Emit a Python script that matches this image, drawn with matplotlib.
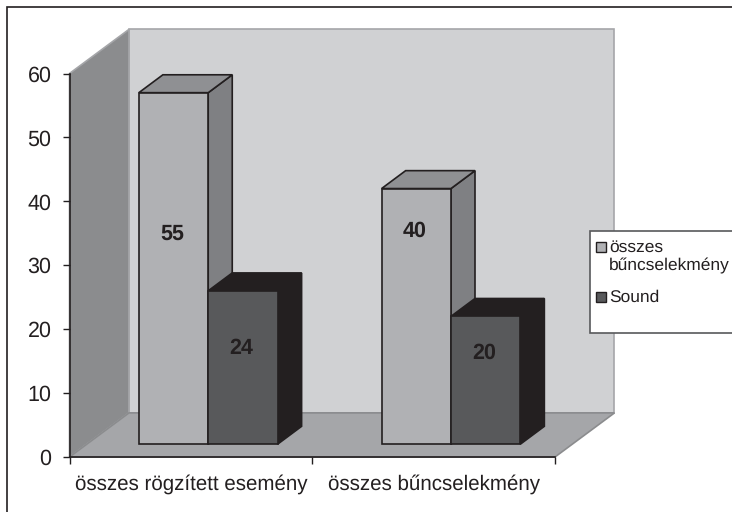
import matplotlib
matplotlib.use('Agg')
import matplotlib.pyplot as plt
from matplotlib.patches import Polygon, Rectangle

plt.rcParams['font.family'] = ['Liberation Sans', 'DejaVu Sans']
plt.rcParams['text.hinting'] = 'no_hinting'

categories = ['összes rögzített esemény', 'összes bűncselekmény']
series_names = ['összes\nbűncselekmény', 'Sound']
first_values = [55, 40]
second_values = [24, 20]
# where the numbers sit on the bars (value axis)
first_label_y = [34.9, 35.4]
second_label_y = [17.0, 16.3]
y_ticks = [0, 10, 20, 30, 40, 50, 60]

INK = '#231f20'
W, H = 732, 512

# 3d look, in data units
wall_dx, wall_dy = 0.245, 6.9
bar_dx, bar_dy = 0.099, 2.8
bar_w = 2 / 7
base = 2

fig = plt.figure(figsize=(W / 100, H / 100), dpi=100)
ax = fig.add_axes([69.5 / W, 1 - 457 / H, 485.5 / W, 383.5 / H])
ax.set_xlim(0, 2)
ax.set_ylim(0, 60)
ax.patch.set_visible(False)


def poly(points, color, edge=None, lw=1.2, z=1):
    ax.add_patch(Polygon(points, closed=True, facecolor=color, edgecolor=edge or color,
                         linewidth=lw, clip_on=False, zorder=z))


# walls and floor
poly([(wall_dx, wall_dy), (2 + wall_dx, wall_dy), (2 + wall_dx, 60 + wall_dy), (wall_dx, 60 + wall_dy)],
     '#d0d1d3', '#a5a6a9')
poly([(0, 0), (wall_dx, wall_dy), (wall_dx, 60 + wall_dy), (0, 60)], '#8b8c8e', '#a5a6a9')
poly([(0, 0), (2, 0), (2 + wall_dx, wall_dy), (wall_dx, wall_dy)], '#a5a6a9', '#8b8c8e')


def bar3d(x, value, front, top, side, z):
    y = base + value
    poly([(x + bar_w, base), (x + bar_w + bar_dx, base + bar_dy),
          (x + bar_w + bar_dx, y + bar_dy), (x + bar_w, y)], side, INK, z=z)
    poly([(x, y), (x + bar_w, y), (x + bar_w + bar_dx, y + bar_dy), (x + bar_dx, y + bar_dy)],
         top, INK, z=z)
    ax.bar(x, value, bar_w, bottom=base, align='edge', color=front, edgecolor=INK,
           linewidth=1.2, zorder=z + 0.1)


for i in range(len(categories)):
    x1 = i + bar_w
    x2 = x1 + bar_w
    bar3d(x1, first_values[i], '#b0b1b4', '#8f9093', '#7f8083', 2)
    bar3d(x2, second_values[i], '#58595b', INK, INK, 3)
    ax.text(x1 + bar_w / 2 - 0.006, first_label_y[i], str(first_values[i]), ha='center', va='center',
            fontsize=15.5, fontweight='bold', color=INK, zorder=5)
    ax.text(x2 + bar_w / 2 - 0.006, second_label_y[i], str(second_values[i]), ha='center', va='center',
            fontsize=15.5, fontweight='bold', color=INK, zorder=5)

for side in ['top', 'right']:
    ax.spines[side].set_visible(False)
for side in ['left', 'bottom']:
    ax.spines[side].set_color(INK)
    ax.spines[side].set_linewidth(1.2)
    ax.spines[side].set_zorder(6)

ax.set_yticks(y_ticks)
ax.set_xticks([0, 1, 2])
ax.set_xticklabels([])
ax.set_xticks([0.5, 1.5], minor=True)
ax.set_xticklabels(categories, minor=True)
ax.tick_params(axis='x', which='minor', length=0, labelsize=14.8, labelcolor=INK, pad=12.5)
ax.tick_params(axis='x', which='major', length=5, width=1, color=INK)
ax.tick_params(axis='y', length=5, width=1, color=INK, labelsize=15.5, labelcolor=INK, pad=8)

# outer frame and legend box
fig.add_artist(Rectangle((6.5 / W, -2 / H), 740 / W, (H - 4.5) / H, transform=fig.transFigure,
                         facecolor='none', edgecolor=INK, linewidth=1.2, zorder=0))
fig.add_artist(Rectangle((589.5 / W, 1 - 332.5 / H), 150 / W, 101.5 / H, transform=fig.transFigure,
                         facecolor='white', edgecolor='#58595b', linewidth=1.2, zorder=8))
# legend by hand: the swatch lines up with the first line of a two line label
swatches = ['#b0b1b4', '#58595b']
legend_y = [247, 297]
for name, swatch, ly in zip(series_names, swatches, legend_y):
    fig.add_artist(Rectangle((596 / W, 1 - (ly + 5) / H), 10 / W, 10 / H, transform=fig.transFigure,
                             facecolor=swatch, edgecolor=INK, linewidth=1, zorder=9))
    fig.text(609 / W, 1 - (ly - 7) / H, name, va='top', ha='left', fontsize=12.5, color=INK,
             linespacing=1.15, zorder=9)

fig.savefig('out.png', dpi=100)
